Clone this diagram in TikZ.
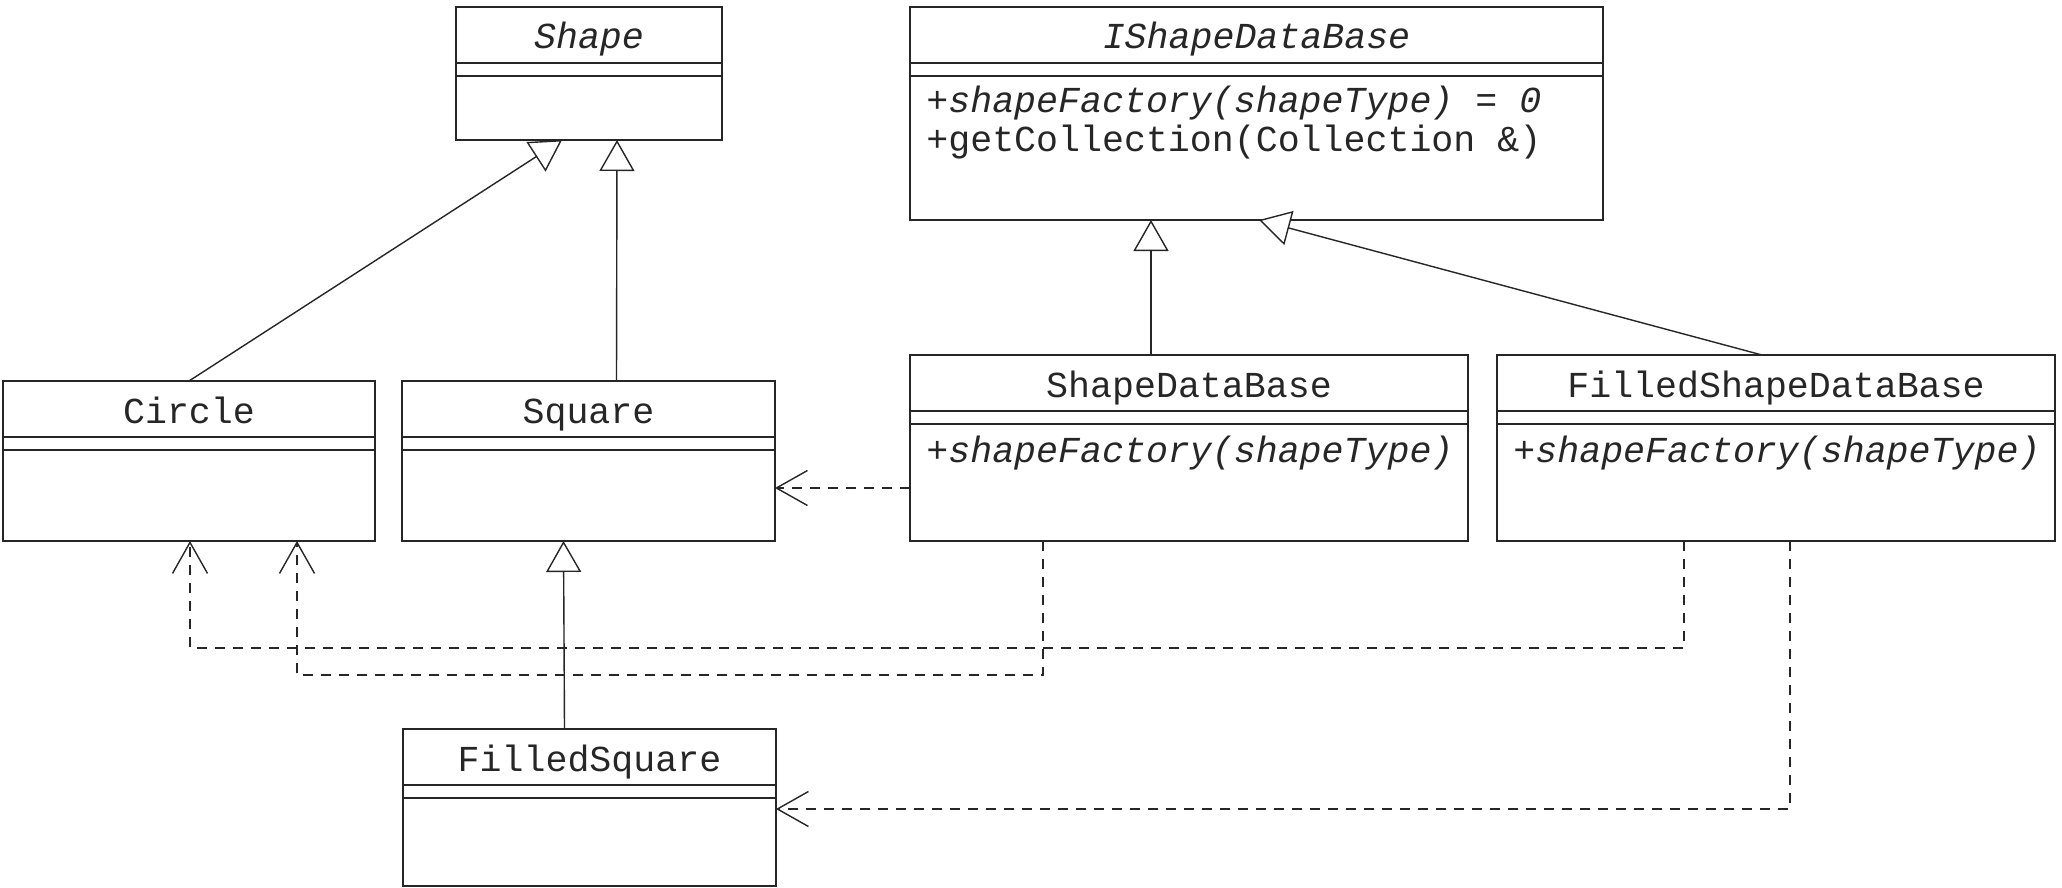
\documentclass[tikz,border=0pt]{standalone}
\usepackage{fontspec}
\newfontfamily\umlfont{Liberation Mono}
\usetikzlibrary{arrows.meta,calc}
\definecolor{ink}{HTML}{262626}
\newcommand{\classbox}[6]{%
  \node[classbody, minimum width=#4*0.5pt, minimum height=#5*0.5pt] (#1) at (#2,#3) {};
  \draw[ink, line width=0.9pt] ($(#1.north west)+(0,56)$) -- ($(#1.north east)+(0,56)$);
  \draw[ink, line width=0.9pt] ($(#1.north west)+(0,69)$) -- ($(#1.north east)+(0,69)$);
  \node[classtext, anchor=base] (#1-title) at ($(#1.north)+(0,42)$) {#6};
}
\begin{document}
\begin{tikzpicture}[x=0.5pt, y=-0.5pt,
  classbody/.style={draw=ink, line width=0.9pt, anchor=north west, inner sep=0pt, outer sep=0pt, fill=white},
  classtext/.style={inner sep=0pt, text=ink, font=\umlfont\fontsize{18.3}{22}\selectfont},
  optext/.style={classtext, anchor=base west},
  gen/.style={draw=ink, line width=0.7pt, -{Triangle[open, fill=white, length=15.5pt, width=17.5pt]}},
  dep/.style={draw=ink, line width=0.7pt, dash pattern=on 5pt off 4pt, -{Straight Barb[length=15.5pt, width=17.5pt]}}
]
\useasboundingbox (0,0) rectangle (2062,888);
\fill[white] (0,0) rectangle (2062,888);

\classbox{shape}{456}{7}{266}{133}{\itshape Shape}
\classbox{ishape}{910}{7}{693}{213}{\itshape IShapeDataBase}
\classbox{circle}{3}{381}{372}{160}{Circle}
\classbox{square}{402}{381}{373}{160}{Square}
\classbox{sdb}{910}{355}{558}{186}{ShapeDataBase}
\classbox{fsdb}{1497}{355}{558}{186}{FilledShapeDataBase}
\classbox{fsq}{403}{729}{373}{157}{FilledSquare}

\node[optext] (ishape-op1) at ($(ishape.north west)+(16,106)$) {\itshape +shapeFactory(shapeType) = 0};
\node[optext] (ishape-op2) at ($(ishape.north west)+(16,145)$) {+getCollection(Collection \&)};
\node[optext] (sdb-op1) at ($(sdb.north west)+(16,107)$) {\itshape +shapeFactory(shapeType)};
\node[optext] (fsdb-op1) at ($(fsdb.north west)+(16,107)$) {\itshape +shapeFactory(shapeType)};

% generalizations
\draw[gen] (circle.north) -- ($(shape.south)+(-27,0)$);
\draw[gen] ($(square.north)+(28,0)$) -- ($(shape.south)+(28,0)$);
\draw[gen] ($(fsq.north)+(-25,0)$) -- ($(square.south)+(-25,0)$);
\draw[gen] ($(sdb.north)+(-38,0)$) -- ($(ishape.south)+(-105.5,0)$);
\draw[gen] ($(fsdb.north)+(-14,0)$) -- ($(ishape.south)+(2.5,0)$);

% dependencies
\draw[dep] ($(sdb.north west)+(0,133)$) -- ($(square.north east)+(0,107)$);
\draw[dep] ($(sdb.south)+(-146,0)$) |- ($(circle.south)+(108,134)$) -- ($(circle.south)+(108,0)$);
\draw[dep] ($(fsdb.south)+(-92,0)$) |- ($(circle.south)+(1,107)$) -- ($(circle.south)+(1,0)$);
\draw[dep] ($(fsdb.south)+(14,0)$) |- ($(fsq.north east)+(0,80)$);
\end{tikzpicture}
\end{document}
